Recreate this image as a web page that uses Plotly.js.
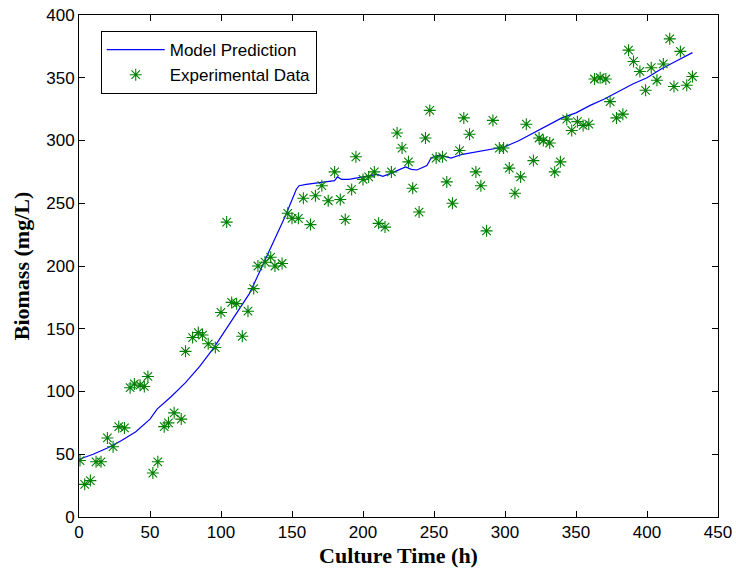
<!DOCTYPE html>
<html>
<head>
<meta charset="utf-8">
<script src="https://cdn.plot.ly/plotly-3.0.1.min.js"></script>
<style>html,body{margin:0;padding:0;background:#fff;}#chart{width:736px;height:574px;}</style>
</head>
<body>
<div id="chart"></div>
<script>
const modelTime = [0,10,20,30,40,50,55,57,65,75,85,95,105,115,120,125,135,145,153,155,160,170,180,182,185,190,200,210,214,220,230,234,238,245,248,252,256,262,270,280,290,300,310,320,330,340,350,360,370,380,390,400,410,420,432];
const modelBiomass = [46,50,55,61,68,78,86,88,96,107,120,135,152,170,178,190,214,239,261,264,265,266.5,268,271,269,269,271,273,271.5,274,279,277,276.5,280,286,288,288,286,289,291,293,295,300,306,312,318,322,328,333,339,345,350,357,363,370];

const expTime = [0.7,4,8,12,15.5,20,24,28,32,36,39,43,46,48.5,52,55.5,60,63,67,72,75,80,84,87,91,96,100,104,107.5,111,115,119,123,126,131,135,138,143,147,150,154.5,158,163,166.5,171,175.5,180,184,187.5,192,195,200,204,208,211,215.5,220,224,227.5,232,235,239.5,244,247,251.5,256,259,263,268,271,275,279.5,283,287,291.5,296,299,303,307,311,315,320,324,327,331.5,335,339,343.5,347,351,355,359,363,367,371,374,378.5,383,387,390.5,395,399,403,407,411.5,416,419,423.5,428,432];
const expBiomass = [45,26,29,44,44,63,56,72,71,103,106,105,104,112,35,44,72,75,83,78,132,143,147,145,138,135,163,235,171,170,144,164,182,200,203,207,200,202,242,238,238,254,233,256,264,252,275,253,237,261,287,269,271,275,234,231,275,306,294,283,262,243,302,324,286,287,267,250,292,318,305,275,264,228,316,294,294,278,258,271,313,284,302,300,298,275,283,317,308,315,312,313,349,350,349,331,318,321,372,363,355,340,358,348,361,381,343,371,344,351];

const xTicks = [0,50,100,150,200,250,300,350,400,450];
const yTicks = [0,50,100,150,200,250,300,350,400];

const traces = [
  {x: modelTime, y: modelBiomass, type: 'scatter', mode: 'lines', name: 'Model Prediction',
   line: {color: '#0000ff', width: 1.2}},
  {x: expTime, y: expBiomass, type: 'scatter', mode: 'markers', name: 'Experimental Data',
   marker: {symbol: 'asterisk-open', size: 10, color: '#008000', line: {color: '#008000', width: 1.1}}}
];

const axisCommon = {
  showgrid: false, zeroline: false, showline: true, linecolor: '#000', linewidth: 1,
  mirror: 'ticks', ticks: 'inside', ticklen: 6, tickcolor: '#000',
  tickfont: {family: 'Liberation Sans, Arial, sans-serif', size: 17, color: '#000'}
};

const layout = {
  width: 736, height: 574,
  margin: {l: 79, r: 18, t: 15, b: 57},
  paper_bgcolor: '#fff', plot_bgcolor: '#fff',
  showlegend: true,
  legend: {x: 0.034, y: 0.968, xanchor: 'left', yanchor: 'top', bgcolor: '#fff',
           bordercolor: '#000', borderwidth: 1, itemwidth: 58,
           font: {family: 'Liberation Sans, Arial, sans-serif', size: 17, color: '#000'}},
  xaxis: Object.assign({}, axisCommon, {range: [0, 450], tickvals: xTicks, ticktext: xTicks.map(String),
    title: {text: 'Culture Time (h)', standoff: 6, font: {family: 'Liberation Serif, Times New Roman, serif', size: 22, color: '#000', weight: 'bold'}}}),
  yaxis: Object.assign({}, axisCommon, {range: [0, 400], tickvals: yTicks, ticktext: yTicks.map(String),
    title: {text: 'Biomass (mg/L)', standoff: 10, font: {family: 'Liberation Serif, Times New Roman, serif', size: 22, color: '#000', weight: 'bold'}}})
};

Plotly.newPlot('chart', traces, layout, {displayModeBar: false, staticPlot: true});
</script>
</body>
</html>
